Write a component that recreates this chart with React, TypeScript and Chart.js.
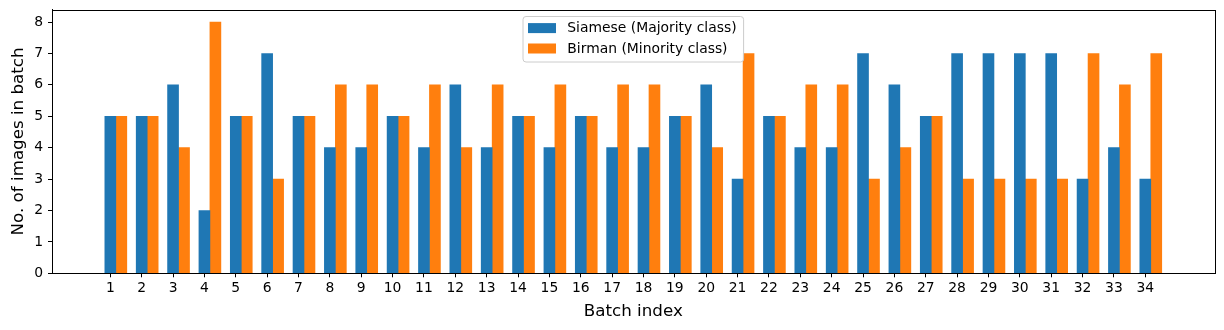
import React, { useEffect, useRef } from 'react';
import { Chart, registerables } from 'chart.js';

Chart.register(...registerables);

const batches = [1, 2, 3, 4, 5, 6, 7, 8, 9, 10, 11, 12, 13, 14, 15, 16, 17, 18, 19, 20, 21, 22, 23, 24, 25, 26, 27, 28, 29, 30, 31, 32, 33, 34];
const siamese = [5, 5, 6, 2, 5, 7, 5, 4, 4, 5, 4, 6, 4, 5, 4, 5, 4, 4, 5, 6, 3, 5, 4, 4, 7, 6, 5, 7, 7, 7, 7, 3, 4, 3];
const birman = [5, 5, 4, 8, 5, 3, 5, 6, 6, 5, 6, 4, 6, 5, 6, 5, 6, 6, 5, 4, 7, 5, 6, 6, 3, 4, 5, 3, 3, 3, 3, 7, 6, 7];
const yTicks = [0, 1, 2, 3, 4, 5, 6, 7, 8];
const seriesLabels = ['Siamese (Majority class)', 'Birman (Minority class)'];
const seriesColors = ['#1f77b4', '#ff7f0e'];
const barOffset = 0.35;

const FONT = '"DejaVu Sans", sans-serif';

const framePlugin = {
  id: 'frame',
  afterDatasetsDraw(chart: any) {
    const { ctx, chartArea } = chart;
    ctx.save();
    ctx.strokeStyle = '#000';
    ctx.lineWidth = 1;
    ctx.strokeRect(
      Math.round(chartArea.left) + 0.5,
      Math.round(chartArea.top) + 0.5,
      Math.round(chartArea.right) - Math.round(chartArea.left),
      Math.round(chartArea.bottom) - Math.round(chartArea.top)
    );
    ctx.restore();
  },
};

const legendPlugin = {
  id: 'mplLegend',
  afterDraw(chart: any) {
    const { ctx, chartArea } = chart;
    const fontSize = 13.9;
    ctx.save();
    ctx.font = `${fontSize}px ${FONT}`;
    const datasets = chart.data.datasets;
    let maxW = 0;
    datasets.forEach((d: any) => {
      maxW = Math.max(maxW, ctx.measureText(d.label).width);
    });
    const padL = 5;
    const patchW = 28;
    const patchH = 10;
    const gap = 11.3;
    const padR = 7;
    const rowH = 20.4;
    const boxW = padL + patchW + gap + maxW + padR;
    const boxH = 45.5;
    const cx = (chartArea.left + chartArea.right) / 2;
    const left = cx - boxW / 2;
    const top = chartArea.top + 7;
    const r = 3;
    ctx.beginPath();
    ctx.moveTo(left + r, top);
    ctx.lineTo(left + boxW - r, top);
    ctx.quadraticCurveTo(left + boxW, top, left + boxW, top + r);
    ctx.lineTo(left + boxW, top + boxH - r);
    ctx.quadraticCurveTo(left + boxW, top + boxH, left + boxW - r, top + boxH);
    ctx.lineTo(left + r, top + boxH);
    ctx.quadraticCurveTo(left, top + boxH, left, top + boxH - r);
    ctx.lineTo(left, top + r);
    ctx.quadraticCurveTo(left, top, left + r, top);
    ctx.closePath();
    ctx.fillStyle = 'rgba(255,255,255,0.8)';
    ctx.fill();
    ctx.strokeStyle = '#cccccc';
    ctx.lineWidth = 1;
    ctx.stroke();
    datasets.forEach((d: any, i: number) => {
      const cy = top + 11.6 + i * rowH;
      ctx.fillStyle = d.backgroundColor;
      ctx.fillRect(left + padL, cy - patchH / 2, patchW, patchH);
      ctx.fillStyle = '#000';
      ctx.textBaseline = 'middle';
      ctx.textAlign = 'left';
      ctx.fillText(d.label, left + padL + patchW + gap, cy + 0.5);
    });
    ctx.restore();
  },
};

export default function App() {
  const ref = useRef<HTMLCanvasElement | null>(null);

  useEffect(() => {
    if (!ref.current) return;
    const chart = new Chart(ref.current, {
      type: 'bar',
      data: {
        datasets: [
          {
            label: seriesLabels[0],
            data: batches.map((b, i) => ({ x: b, y: siamese[i] })),
            backgroundColor: seriesColors[0],
            borderWidth: 0,
            grouped: false,
            barPercentage: 1,
            categoryPercentage: 1,
          },
          {
            label: seriesLabels[1],
            data: batches.map((b, i) => ({ x: b + barOffset, y: birman[i] })),
            backgroundColor: seriesColors[1],
            borderWidth: 0,
            grouped: false,
            barPercentage: 1,
            categoryPercentage: 1,
          },
        ],
      },
      options: {
        responsive: false,
        animation: false,
        layout: { padding: { top: 9.5, right: 9.4, left: 0, bottom: 0 } },
        plugins: {
          legend: { display: false },
          tooltip: { enabled: false },
        },
        scales: {
          x: {
            type: 'linear',
            offset: false,
            min: -0.86,
            max: 36.21,
            afterBuildTicks: (axis: any) => {
              axis.ticks = batches.map((v) => ({ value: v }));
            },
            afterFit: (axis: any) => {
              axis.height = 56.7;
              axis.paddingLeft = 0;
              axis.paddingRight = 0;
            },
            grid: {
              display: true,
              offset: false,
              drawOnChartArea: false,
              drawTicks: true,
              tickLength: 4,
              tickColor: '#000',
              tickWidth: 1,
            },
            border: { display: true, color: '#000', width: 1 },
            ticks: {
              autoSkip: false,
              maxRotation: 0,
              padding: 3,
              color: '#000',
              font: { family: FONT, size: 13.9 },
              callback: (v: any) => String(v),
            },
            title: {
              display: true,
              text: 'Batch index',
              color: '#000',
              font: { family: FONT, size: 16.7 },
              padding: { top: 0, bottom: 8 },
            },
          },
          y: {
            type: 'linear',
            min: 0,
            max: 8.4,
            afterBuildTicks: (axis: any) => {
              axis.ticks = yTicks.map((v) => ({ value: v }));
            },
            afterFit: (axis: any) => {
              axis.width = 52;
              axis.paddingTop = 0;
              axis.paddingBottom = 0;
            },
            grid: {
              display: true,
              drawOnChartArea: false,
              drawTicks: true,
              tickLength: 4,
              tickColor: '#000',
              tickWidth: 1,
            },
            border: { display: true, color: '#000', width: 1 },
            ticks: {
              padding: 5,
              color: '#000',
              font: { family: FONT, size: 13.9 },
              callback: (v: any) => String(v),
            },
            title: {
              display: true,
              text: 'No. of images in batch',
              color: '#000',
              font: { family: FONT, size: 16.7 },
              padding: { top: 8.5, bottom: 0 },
            },
          },
        },
      },
      plugins: [framePlugin, legendPlugin],
    });
    return () => chart.destroy();
  }, []);

  return (
    <div style={{ position: 'fixed', left: 0, top: 0, width: 1224, height: 330, background: '#fff' }}>
      <canvas ref={ref} width={1224} height={330} style={{ display: 'block' }} />
    </div>
  );
}
